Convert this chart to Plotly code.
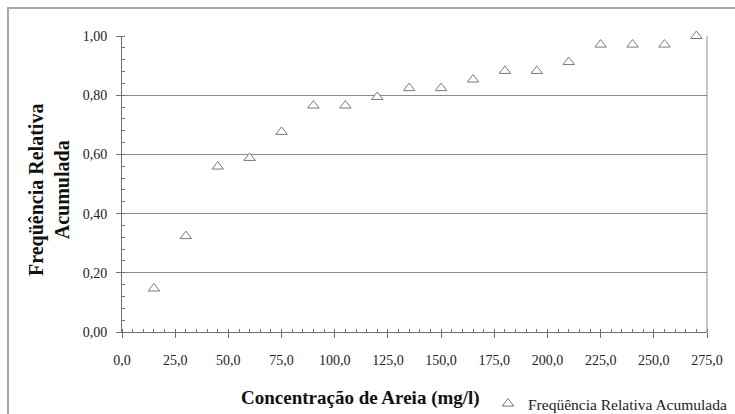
import plotly.graph_objects as go

concentracao = [15, 30, 45, 60, 75, 90, 105, 120, 135, 150, 165, 180, 195, 210, 225, 240, 255, 270]
freq_acum = [0.147, 0.324, 0.559, 0.588, 0.676, 0.765, 0.765, 0.794, 0.824, 0.824,
             0.853, 0.882, 0.882, 0.912, 0.971, 0.971, 0.971, 1.000]

font = "Times New Roman, Liberation Serif, serif"

fig = go.Figure()
fig.add_trace(go.Scatter(
    x=concentracao, y=freq_acum, mode="markers",
    name="Freqüência Relativa Acumulada",
    cliponaxis=False,
    marker=dict(symbol="triangle-up", size=10, color="white",
                line=dict(color="#7a7a7a", width=1)),
))

W, H = 735, 414
L, R, T, B = 122, 28, 36, 82
pw, ph = W - L - R, H - T - B

def px(x):
    return (x - L) / pw

def py(y):
    return (H - B - y) / ph

tickfont = dict(family=font, size=14, color="#222")

fig.update_layout(
    template="none",
    width=W, height=H,
    margin=dict(l=L, r=R, t=T, b=B, autoexpand=False),
    paper_bgcolor="white", plot_bgcolor="white",
    separators=",.",
    font=dict(family=font, size=14, color="#222"),
    showlegend=True,
    legend=dict(xref="container", yref="container",
                x=488 / W, y=1 - 404 / H, xanchor="left", yanchor="middle",
                font=dict(family=font, size=15.5, color="#222"),
                bgcolor="rgba(0,0,0,0)", borderwidth=0),
    xaxis=dict(
        range=[0, 275], dtick=25, tick0=0, tickformat=".1f",
        showgrid=False, zeroline=False, automargin=False,
        showline=True, linecolor="#707070", linewidth=1,
        ticks="outside", ticklen=5, tickcolor="#707070",
        ticklabelstandoff=10, tickfont=tickfont,
        minor=dict(ticks="inside", ticklen=3, dtick=5, tickcolor="#707070", showgrid=False),
    ),
    yaxis=dict(
        range=[0, 1], dtick=0.2, tick0=0, tickformat=".2f",
        showgrid=True, gridcolor="#8c8c8c", gridwidth=1,
        zeroline=False, automargin=False,
        showline=True, linecolor="#707070", linewidth=1,
        ticks="outside", ticklen=5, tickcolor="#707070",
        ticklabelstandoff=6, tickfont=tickfont,
        minor=dict(ticks="inside", ticklen=3, dtick=0.04, tickcolor="#707070", showgrid=False),
    ),
    annotations=[
        dict(text="<b>Concentração de Areia (mg/l)</b>", xref="paper", yref="paper",
             x=px(360), y=py(398), xanchor="center", yanchor="middle", showarrow=False,
             font=dict(family=font, size=19, color="#111")),
        dict(text="<b>Freqüência Relativa<br>Acumulada</b>", xref="paper", yref="paper",
             x=px(49), y=py(190), xanchor="center", yanchor="middle", showarrow=False,
             textangle=-90,
             font=dict(family=font, size=20, color="#111")),
    ],
    shapes=[
        dict(type="rect", xref="paper", yref="paper",
             x0=px(8), x1=px(760), y0=py(430), y1=py(8),
             line=dict(color="#a8a8a8", width=2), layer="below"),
        dict(type="line", xref="paper", yref="paper",
             x0=1, x1=1, y0=0, y1=1,
             line=dict(color="#c8c8c8", width=2), layer="below"),
    ],
)

fig.write_html("out.html")
